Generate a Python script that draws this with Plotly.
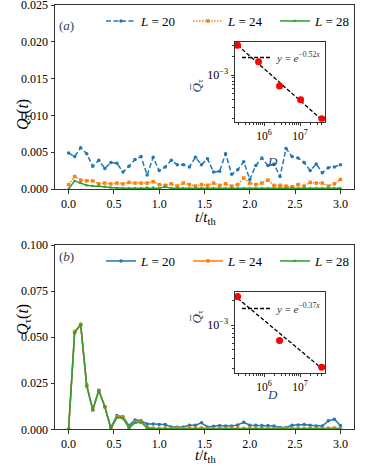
import plotly.graph_objects as go

# ---------------- data ----------------
t_vals = [i / 15 for i in range(46)]

# panel (a)
qa_L20 = [0.0049, 0.0044, 0.0056, 0.0048, 0.0031, 0.0039, 0.0028, 0.0036, 0.0035, 0.0023,
          0.0031, 0.0040, 0.0044, 0.0019, 0.0043, 0.0025, 0.0030, 0.0039, 0.0033, 0.0033,
          0.0030, 0.0043, 0.0033, 0.0041, 0.0023, 0.0024, 0.0048, 0.0020, 0.0026, 0.0037,
          0.0013, 0.0032, 0.0042, 0.0032, 0.0034, 0.0017, 0.0055, 0.0044, 0.0042, 0.0036,
          0.0025, 0.0034, 0.0022, 0.0029, 0.0030, 0.0033]
qa_L24 = [0.0006, 0.0017, 0.0012, 0.0011, 0.0011, 0.0007, 0.0008, 0.0007, 0.0008, 0.0007,
          0.0009, 0.0008, 0.0008, 0.0008, 0.0010, 0.0006, 0.0005, 0.0007, 0.0004, 0.0008,
          0.0006, 0.0004, 0.0006, 0.0005, 0.0008, 0.0005, 0.0007, 0.0004, 0.0006, 0.0015,
          0.0008, 0.0006, 0.0008, 0.0012, 0.0005, 0.0005, 0.0004, 0.0003, 0.0006, 0.0004,
          0.0009, 0.0008, 0.0008, 0.0004, 0.0007, 0.0013]
qa_L28 = [0.0000, 0.0011, 0.0008, 0.0005, 0.0004, 0.0004, 0.0003, 0.0002, 0.0001, 0.0001,
          0.0001, 0.0001, 0.0001, 0.0002, 0.0002, 0.0001, 0.0003, 0.0001, 0.0001, 0.0001,
          0.0001, 0.0001, 0.0001, 0.0001, 0.0001, 0.0001, 0.0001, 0.0001, 0.0001, 0.0001,
          0.0001, 0.0001, 0.0001, 0.0001, 0.0001, 0.0001, 0.0001, 0.0001, 0.0001, 0.0001,
          0.0001, 0.0001, 0.0001, 0.0001, 0.0001, 0.0001]

# panel (b)
qb_L20 = [0.0, 0.0525, 0.0570, 0.0240, 0.0108, 0.0212, 0.0124, 0.0010, 0.0075, 0.0068,
          0.0020, 0.0051, 0.0046, 0.0029, 0.0029, 0.0026, 0.0026, 0.0013, 0.0011, 0.0013,
          0.0022, 0.0022, 0.0035, 0.0013, 0.0016, 0.0020, 0.0018, 0.0018, 0.0024, 0.0038,
          0.0022, 0.0022, 0.0020, 0.0020, 0.0018, 0.0010, 0.0010, 0.0022, 0.0024, 0.0026,
          0.0022, 0.0018, 0.0018, 0.0046, 0.0055, 0.0020]
qb_L24 = [0.0, 0.0530, 0.0568, 0.0236, 0.0105, 0.0210, 0.0122, 0.0003, 0.0068, 0.0063,
          0.0012, 0.0040, 0.0040, 0.0012, 0.0006, 0.0005, 0.0007, 0.0004, 0.0006, 0.0005,
          0.0008, 0.0006, 0.0007, 0.0004, 0.0005, 0.0006, 0.0005, 0.0006, 0.0007, 0.0005,
          0.0006, 0.0005, 0.0004, 0.0006, 0.0005, 0.0004, 0.0006, 0.0005, 0.0004, 0.0005,
          0.0006, 0.0005, 0.0004, 0.0006, 0.0007, 0.0005]
qb_L28 = [0.0, 0.0525, 0.0568, 0.0236, 0.0104, 0.0210, 0.0122, 0.0002, 0.0064, 0.0060,
          0.0008, 0.0035, 0.0038, 0.0008, 0.0002, 0.0002, 0.0001, 0.0001, 0.0002, 0.0001,
          0.0001, 0.0002, 0.0001, 0.0001, 0.0001, 0.0002, 0.0001, 0.0001, 0.0001, 0.0001,
          0.0001, 0.0001, 0.0001, 0.0001, 0.0001, 0.0001, 0.0001, 0.0001, 0.0001, 0.0001,
          0.0001, 0.0001, 0.0001, 0.0001, 0.0001, 0.0001]

# insets
inset_a_D = [184756, 705432, 2704156, 10400600, 40116600]
inset_a_Q = [3.0e-3, 1.63e-3, 6.7e-4, 4.0e-4, 2.0e-4]
fit_a_D = [184756, 40116600]
fit_a_Q = [3.0e-3, 1.92e-4]

inset_b_D = [184756, 2704156, 40116600]
inset_b_Q = [2.2e-3, 6.5e-4, 3.1e-4]
fit_b_D = [184756, 40116600]
fit_b_Q = [2.1e-3, 3.0e-4]

series_names = ["<i>L</i> = 20", "<i>L</i> = 24", "<i>L</i> = 28"]
colors = ["#1f77b4", "#ff7f0e", "#2ca02c"]

# ---------------- figure ----------------
W, H = 374, 467
def px_x(p): return p / W
def px_y(p): return 1 - p / H

FONT = "Liberation Serif"
fig = go.Figure()

styles_a = [("5px,2.5px", "circle"), ("1.5px,1.5px", "square"), ("solid", "triangle-up")]
for q, name, c, (d, m) in zip([qa_L20, qa_L24, qa_L28], series_names, colors, styles_a):
    fig.add_trace(go.Scatter(x=t_vals, y=q, name=name, mode="lines+markers",
                             line=dict(color=c, width=1.5, dash=d),
                             marker=dict(color=c, size=3.5, symbol=m),
                             xaxis="x", yaxis="y", legend="legend"))
for q, name, c, m in zip([qb_L20, qb_L24, qb_L28], series_names, colors,
                         ["circle", "square", "triangle-up"]):
    fig.add_trace(go.Scatter(x=t_vals, y=q, name=name, mode="lines+markers",
                             line=dict(color=c, width=1.5),
                             marker=dict(color=c, size=3.5, symbol=m),
                             xaxis="x2", yaxis="y2", legend="legend3"))

fig.add_trace(go.Scatter(x=fit_a_D, y=fit_a_Q, mode="lines",
                         name="<i>y</i> = <i>e</i><sup>−0.52<i>x</i></sup>",
                         line=dict(color="black", width=1.3, dash="4px,2px"),
                         xaxis="x3", yaxis="y3", legend="legend2"))
fig.add_trace(go.Scatter(x=inset_a_D, y=inset_a_Q, mode="markers", showlegend=False,
                         marker=dict(color="red", size=7),
                         xaxis="x3", yaxis="y3"))
fig.add_trace(go.Scatter(x=fit_b_D, y=fit_b_Q, mode="lines",
                         name="<i>y</i> = <i>e</i><sup>−0.37<i>x</i></sup>",
                         line=dict(color="black", width=1.3, dash="4px,2px"),
                         xaxis="x4", yaxis="y4", legend="legend4"))
fig.add_trace(go.Scatter(x=inset_b_D, y=inset_b_Q, mode="markers", showlegend=False,
                         marker=dict(color="red", size=7),
                         xaxis="x4", yaxis="y4"))

axcol = "#333333"
tickfont = dict(family=FONT, size=12, color="black")

def main_x(domain, anchor):
    return dict(domain=domain, anchor=anchor, range=[-0.15, 3.15], automargin=False,
                tickvals=[0, 0.5, 1, 1.5, 2, 2.5, 3], tickformat=".1f",
                showline=True, mirror=True, linecolor=axcol, linewidth=1,
                ticks="outside", ticklen=3.5, tickcolor=axcol, showgrid=False,
                zeroline=False, tickfont=tickfont, ticklabeloverflow="allow")

def main_y(domain, anchor, rng, tv):
    return dict(domain=domain, anchor=anchor, range=rng, tickvals=tv, tickformat=".3f",
                automargin=False, ticklabeloverflow="allow",
                showline=True, mirror=True, linecolor=axcol, linewidth=1,
                ticks="outside", ticklen=3.5, tickcolor=axcol, showgrid=False,
                zeroline=False, tickfont=tickfont)

def minor_vals(lo, hi):
    out = []
    for e in range(lo, hi + 1):
        for k in range(2, 10):
            out.append(k * 10 ** e)
    return out

def inset_x(domain, anchor):
    return dict(domain=domain, anchor=anchor, type="log", range=[5.194, 7.694],
                automargin=False,
                tickvals=[1e6, 1e7], ticktext=["10<sup>6</sup>", "10<sup>7</sup>"],
                showline=True, mirror=True, linecolor=axcol, linewidth=1,
                ticks="outside", ticklen=3, tickcolor=axcol, showgrid=False,
                zeroline=False, tickfont=dict(family=FONT, size=11.5, color="black"),
                minor=dict(tickvals=minor_vals(5, 7), ticks="outside", ticklen=2,
                           tickcolor=axcol, showgrid=False))

def inset_y(domain, anchor, rng):
    return dict(domain=domain, anchor=anchor, type="log", range=rng, automargin=False,
                tickvals=[1e-3], ticktext=["10<sup>−3</sup>"],
                showline=True, mirror=True, linecolor=axcol, linewidth=1,
                ticks="outside", ticklen=3.5, tickcolor=axcol, showgrid=False,
                zeroline=False, tickfont=tickfont,
                minor=dict(tickvals=minor_vals(-4, -3), ticks="outside", ticklen=2,
                           tickcolor=axcol, showgrid=False))

xdom = [px_x(55), px_x(354)]
ya_dom = [px_y(189), px_y(5)]
yb_dom = [px_y(429.3), px_y(245)]
ins_x = [px_x(235), px_x(325)]
ins_ya = [px_y(121.7), px_y(41.7)]
ins_yb = [px_y(373.3), px_y(292.3)]

legfont = dict(family=FONT, size=13, color="black")
fig.update_layout(
    width=W, height=H, margin=dict(l=0, r=0, t=0, b=0, autoexpand=False),
    paper_bgcolor="white", plot_bgcolor="white",
    xaxis=main_x(xdom, "y"), yaxis=main_y(ya_dom, "x", [0, 0.025],
                                          [0, 0.005, 0.01, 0.015, 0.02, 0.025]),
    xaxis2=main_x(xdom, "y2"), yaxis2=main_y(yb_dom, "x2", [0, 0.1],
                                             [0, 0.025, 0.05, 0.075, 0.1]),
    xaxis3=inset_x(ins_x, "y3"), yaxis3=inset_y(ins_ya, "x3", [-3.748, -2.466]),
    xaxis4=inset_x(ins_x, "y4"), yaxis4=inset_y(ins_yb, "x4", [-3.582, -2.606]),
    legend=dict(orientation="h", x=px_x(101), y=px_y(6), xanchor="left", yanchor="top",
                bgcolor="rgba(0,0,0,0)", font=legfont, entrywidth=42,
                itemwidth=30),
    legend3=dict(orientation="h", x=px_x(101), y=px_y(246), xanchor="left", yanchor="top",
                 bgcolor="rgba(0,0,0,0)", font=legfont, entrywidth=42,
                 itemwidth=30),
    legend2=dict(x=px_x(237), y=px_y(43), xanchor="left", yanchor="top",
                 bgcolor="rgba(0,0,0,0)", font=dict(family=FONT, size=11, color="#333"),
                 itemwidth=30),
    legend4=dict(x=px_x(237), y=px_y(294), xanchor="left", yanchor="top",
                 bgcolor="rgba(0,0,0,0)", font=dict(family=FONT, size=11, color="#333"),
                 itemwidth=30),
)

titlefont = dict(family=FONT, size=16, color="black")
ann = []
for yc in [97, 337]:
    ann.append(dict(text="<i>Q</i><sub>τ</sub>(<i>t</i>)", x=px_x(12), y=px_y(yc),
                    xref="paper", yref="paper", showarrow=False, textangle=-90,
                    font=titlefont))
for yb in [229, 467]:
    ann.append(dict(text="<i>t</i>/<i>t</i><sub>th</sub>", x=px_x(205), y=px_y(yb),
                    xref="paper", yref="paper", showarrow=False, yanchor="bottom",
                    font=dict(family=FONT, size=15, color="black")))
for lab, yc in [("(<i>a</i>)", 16), ("(<i>b</i>)", 256)]:
    ann.append(dict(text=lab, x=px_x(57), y=px_y(yc), xref="paper", yref="paper",
                    xanchor="left", showarrow=False, font=dict(family=FONT, size=13)))
for yc in [152, 404]:
    ann.append(dict(text="<i>D</i>", x=px_x(280), y=px_y(yc), xref="paper", yref="paper",
                    showarrow=False, font=dict(family=FONT, size=13)))
for yc in [78, 326]:
    ann.append(dict(text="<i>Q̅</i><sub>τ</sub>", x=px_x(197), y=px_y(yc),
                    xref="paper", yref="paper", showarrow=False, textangle=-90,
                    font=dict(family=FONT, size=13)))
fig.update_layout(annotations=ann)

fig.write_html("out.html", config={"displayModeBar": False},
               post_script="document.body.style.margin='0px';")
